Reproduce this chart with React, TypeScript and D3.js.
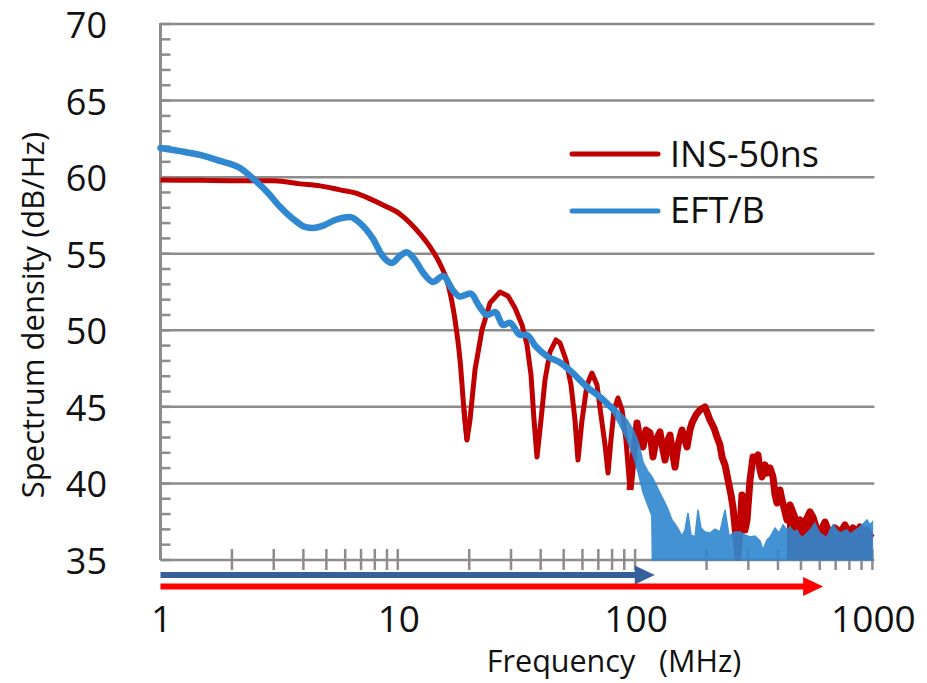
import React from "react";
import * as d3 from "d3";

// ---------- data ----------
const yTickValues = [35, 40, 45, 50, 55, 60, 65, 70];
const xTickValues = [1, 10, 100, 1000];
const xTickLabels = ["1", "10", "100", "1000"];
const seriesNames = ["INS-50ns", "EFT/B"];

// INS-50ns (red)
const insFreq = [
  1.0, 1.467, 2.163, 3.01, 3.87, 4.7, 5.71, 6.6, 7.64, 8.83, 10.2, 11.26, 12.41, 13.67, 15.07, 16.28,
  17.42, 18.29, 19.01, 19.57, 20.15, 21.15, 22.63, 24.47, 26.96, 29.13, 31.18, 33.38, 35.04, 36.42,
  37.5, 38.6, 40.13, 41.72, 43.79, 46.42, 48.26, 51.16, 53.7, 55.8, 57.45, 59.75, 62.7, 65.8, 69.1,
  71.8, 74.7, 76.9, 79.1, 81.5, 84.7, 88.1, 91.5, 95.2, 98.9, 101.9, 104.9, 108, 111.2, 115.6, 119,
  122.5, 127.3, 131.1, 133.7, 137.6, 140.3, 144.4, 147.3, 151.6, 157.6, 162.3, 165.5, 170.3, 173.7,
  180.6, 187.7, 197.0, 206.8, 215.0, 221.4, 227.9, 232.4, 239.3, 246.3, 253.6, 258.5, 263.6, 268.8,
  271.4, 276.7, 282.1, 287.6, 290.5, 296.2, 305.0, 314.0, 323.2, 329.5, 336.1, 342.6, 352.7, 359.6,
  370.3, 381.2, 388.7, 396.3, 408.0, 416.0, 428.3, 436.7, 449.6, 458.4, 472.0, 481.2, 495.4, 510.1,
  525.1, 545.9, 561.9, 584.2, 601.4, 631.4, 662.8, 695.9, 730.4, 766.7, 804.8, 828.6, 861.3, 886.8,
  921.8, 949.1, 977.1, 1000,
];
const insDb = [
  59.82, 59.79, 59.76, 59.76, 59.56, 59.43, 59.17, 58.97, 58.58, 58.12, 57.6, 57.01, 56.29, 55.44,
  54.33, 53.02, 50.68, 48.06, 44.8, 42.84, 44.14, 47.41, 50.02, 51.79, 52.5, 52.24, 51.46, 50.35,
  49.04, 47.08, 44.14, 41.73, 44.14, 46.76, 48.59, 49.37, 49.17, 48.06, 46.43, 44.14, 41.53, 44.14,
  46.43, 47.21, 46.43, 44.47, 42.51, 40.68, 42.84, 44.8, 45.58, 44.8, 42.84, 39.57, 42.18, 43.95,
  42.84, 42.38, 43.49, 43.3, 41.73, 42.84, 43.36, 42.18, 41.53, 42.84, 43.16, 41.86, 41.07, 42.51,
  43.49, 42.84, 42.38, 43.49, 43.95, 44.47, 44.8, 44.99, 44.14, 43.62, 43.03, 42.51, 41.73, 41.21,
  40.23, 39.25, 38.46, 37.16, 35.85, 35.2, 36.96, 39.25, 37.94, 36.96, 37.61, 40.23, 41.73, 41.53,
  41.86, 40.88, 40.42, 41.21, 40.68, 41.01, 40.42, 39.25, 38.72, 39.57, 38.92, 38.14, 37.61, 38.59,
  38.27, 37.74, 37.42, 37.61, 37.16, 37.61, 38.14, 37.81, 36.96, 36.76, 37.48, 36.63, 37.09, 36.76,
  37.29, 36.63, 37.09, 36.7, 37.16, 36.76, 36.96, 36.63, 36.76,
];

// EFT/B (blue) smooth part
const eftFreq = [
  1.0, 1.208, 1.467, 1.781, 2.163, 2.5, 2.84, 3.19, 3.76, 4.06, 4.39, 4.79, 5.44, 6.29, 6.93, 7.86,
  8.58, 9.45, 10.2, 10.9, 11.8, 12.8, 14.1, 15.5, 17.1, 18.3, 20.2, 22.2, 23.8, 25.7, 27.8, 29.7,
  32.7, 35.0, 37.9, 42.6, 48.3, 54.7, 62.7, 71.1, 80.7,
];
const eftDb = [
  61.9, 61.7, 61.45, 61.06, 60.6, 59.8, 58.97, 58.06, 57.07, 56.75, 56.68, 56.8, 57.2, 57.4, 57.0,
  55.97, 54.9, 54.4, 54.85, 55.1, 54.6, 53.75, 53.16, 53.55, 52.6, 52.2, 52.4, 51.5, 51.0, 51.2,
  50.35, 50.5, 49.7, 49.7, 49.0, 48.3, 47.9, 47.2, 46.3, 45.65, 44.85,
];
// EFT/B (blue) noisy part: upper / lower envelope
const eftBandFreq = [
  80.7, 86.0, 92.5, 98.3, 103.5, 108, 113.0, 117.6, 118.2, 123.7, 129.8, 136.3, 143.1, 150.2, 157.6,
  162.3, 167.1, 172.0, 178.8, 184.1, 189.5, 197.0, 206.8, 217.1, 227.9, 239.3, 248.7, 263.6, 276.7,
  290.5, 305.0, 320.2, 336.1, 345.9, 359.6, 370.3, 388.7, 404.1, 420.1, 436.7, 449.6, 467.4, 481.2,
  495.4, 510.1, 530.2, 545.9, 573.0, 589.8, 601.4, 625.3, 643.8, 662.8, 682.3, 709.4, 730.4, 759.3,
  781.7, 804.8, 828.6, 861.3, 886.8, 912.9, 949.1, 977.1, 1000,
];
const eftBandHi = [
  45.12, 44.67, 44.14, 43.49, 42.64, 41.4, 40.8, 40.45, 40.4, 39.77, 39.11, 38.46, 37.61, 37.16,
  36.57, 36.96, 38.07, 36.63, 36.5, 38.27, 37.09, 36.83, 36.76, 37.02, 36.83, 38.27, 36.57, 36.83,
  36.83, 36.63, 36.5, 36.57, 36.24, 35.65, 36.31, 36.5, 37.09, 36.76, 37.29, 36.96, 37.16, 36.83,
  36.96, 36.57, 36.5, 36.76, 36.96, 37.42, 36.96, 36.76, 36.57, 36.5, 36.96, 37.29, 36.96, 36.76,
  36.89, 36.96, 36.7, 36.83, 37.02, 37.16, 37.35, 37.61, 37.29, 37.48,
];
const eftBandLo = [
  44.6, 43.82, 42.84, 41.8, 40.6, 39.4, 38.6, 37.9, 35, 35, 35, 35, 35, 35, 35, 35, 35, 35, 35, 35,
  35, 35, 35, 35, 35, 35, 35, 35, 35, 35, 35, 35, 35, 35, 35, 35, 35, 35, 35, 35, 35, 35, 35, 35, 35,
  35, 35, 35, 35, 35, 35, 35, 35, 35, 35, 35, 35, 35, 35, 35, 35, 35, 35, 35, 35, 35,
];
// dense red noise fills downward above this frequency
const insDenseFrom = 436;
// noisy red region drawn with a heavier trace above this frequency
const insNoisyFrom = 95;

// measurement ranges (arrows), MHz
const rangeEnds = [121, 620];

// ---------- layout ----------
const W = 927;
const H = 683;
const RED = "#C00000";
const BLUE = "#2F88D0";
const GRID = "#8C8C8C";
const FONT = "'Open Sans', sans-serif";

export default function App() {
  const x = d3.scaleLog().domain([1, 1000]).range([160.5, 872.4]);
  const y = d3.scaleLinear().domain([35, 70]).range([560, 24]);

  const minorY = d3.range(35, 71, 1);
  const minorX: number[] = [];
  [1, 10, 100].forEach((dec) => {
    for (let k = 2; k <= 10; k++) minorX.push(dec * k);
  });

  const insPts = insFreq.map((f, i) => [f, insDb[i]] as [number, number]);
  const eftPts = eftFreq.map((f, i) => [f, eftDb[i]] as [number, number]);
  const bandPts = eftBandFreq.map((f, i) => ({ f, hi: eftBandHi[i], lo: eftBandLo[i] }));

  const line = d3
    .line<[number, number]>()
    .x((d) => x(d[0]))
    .y((d) => y(d[1]));
  const smoothLine = d3
    .line<[number, number]>()
    .x((d) => x(d[0]))
    .y((d) => y(d[1]))
    .curve(d3.curveMonotoneX);

  const redFill = d3
    .area<[number, number]>()
    .x((d) => x(d[0]))
    .y0(y(35))
    .y1((d) => y(d[1]));

  const band = d3
    .area<{ f: number; hi: number; lo: number }>()
    .x((d) => x(d.f))
    .y0((d) => y(d.lo))
    .y1((d) => y(d.hi));

  const x0 = x(1);
  const xR = x(1000);

  return (
    <svg
      width={W}
      height={H}
      style={{ position: "absolute", left: 0, top: 0, background: "#fff" }}
      fontFamily={FONT}
    >
      {/* gridlines */}
      {yTickValues.map((v) => (
        <line key={"g" + v} x1={x0} x2={xR + 2} y1={y(v)} y2={y(v)} stroke={GRID} strokeWidth={2.5} />
      ))}
      {/* left axis */}
      <line x1={x0} x2={x0} y1={y(70) - 1} y2={y(35)} stroke={GRID} strokeWidth={3} />
      {minorY.map((v) => (
        <line key={"my" + v} x1={x0} x2={x0 + 10} y1={y(v)} y2={y(v)} stroke={GRID} strokeWidth={2.5} />
      ))}
      {minorX.map((v) => (
        <line key={"mx" + v} x1={x(v)} x2={x(v)} y1={y(35) - 11} y2={y(35) + 10} stroke={GRID} strokeWidth={2.5} />
      ))}

      {/* INS-50ns */}
      <path d={redFill(insPts.filter((d) => d[0] >= insDenseFrom)) || ""} fill={RED} />
      <path d={smoothLine(insPts.filter((d) => d[0] <= 20)) || ""} fill="none" stroke={RED} strokeWidth={5} strokeLinejoin="round" />
      <path
        d={line(insPts.filter((d) => d[0] >= 19 && d[0] <= insNoisyFrom + 1)) || ""}
        fill="none"
        stroke={RED}
        strokeWidth={5}
        strokeLinejoin="round"
      />
      <path
        d={line(insPts.filter((d) => d[0] >= insNoisyFrom)) || ""}
        fill="none"
        stroke={RED}
        strokeWidth={7}
        strokeLinejoin="round"
      />

      {/* EFT/B */}
      <g opacity={0.9}>
        <path d={band(bandPts) || ""} fill={BLUE} stroke={BLUE} strokeWidth={1.5} />
      </g>
      <path d={smoothLine(eftPts) || ""} fill="none" stroke={BLUE} strokeWidth={6.5} strokeLinejoin="round" strokeLinecap="round" />

      {/* range arrows */}
      {rangeEnds.map((end, i) => {
        const yy = i === 0 ? 575 : 586.5;
        const col = i === 0 ? "#35609A" : "#FF0000";
        const xe = x(end);
        return (
          <g key={"ar" + i}>
            <line x1={x0} x2={xe - 18} y1={yy} y2={yy} stroke={col} strokeWidth={6} />
            <path d={`M${xe},${yy} L${xe - 20},${yy - 9.5} L${xe - 20},${yy + 9.5} Z`} fill={col} />
          </g>
        );
      })}

      {/* y tick labels */}
      {yTickValues.map((v) => (
        <text key={"yl" + v} x={107} y={y(v) + 1} dy="0.36em" textAnchor="end" fontSize={36} fill="#111">
          {v}
        </text>
      ))}
      {/* x tick labels */}
      {xTickValues.map((v, i) => (
        <text key={"xl" + v} x={x(v) + 1} y={632} textAnchor="middle" fontSize={37} fill="#111">
          {xTickLabels[i]}
        </text>
      ))}

      {/* axis titles */}
      <text
        x={614}
        y={672}
        textAnchor="middle"
        fontSize={30.5}
        fill="#111"
        style={{ whiteSpace: "pre" }}
      >
        {"Frequency   (MHz)"}
      </text>
      <text
        transform="translate(44,315) rotate(-90)"
        textAnchor="middle"
        fontSize={31}
        fill="#111"
      >
        Spectrum density (dB/Hz)
      </text>

      {/* legend */}
      <line x1={572} x2={658} y1={154} y2={154} stroke={RED} strokeWidth={5} strokeLinecap="round" />
      <text x={670} y={167} fontSize={36} fill="#111">
        {seriesNames[0]}
      </text>
      <line x1={572} x2={658} y1={211} y2={211} stroke={BLUE} strokeWidth={5} strokeLinecap="round" />
      <text x={670} y={223} fontSize={36} fill="#111">
        {seriesNames[1]}
      </text>
    </svg>
  );
}
